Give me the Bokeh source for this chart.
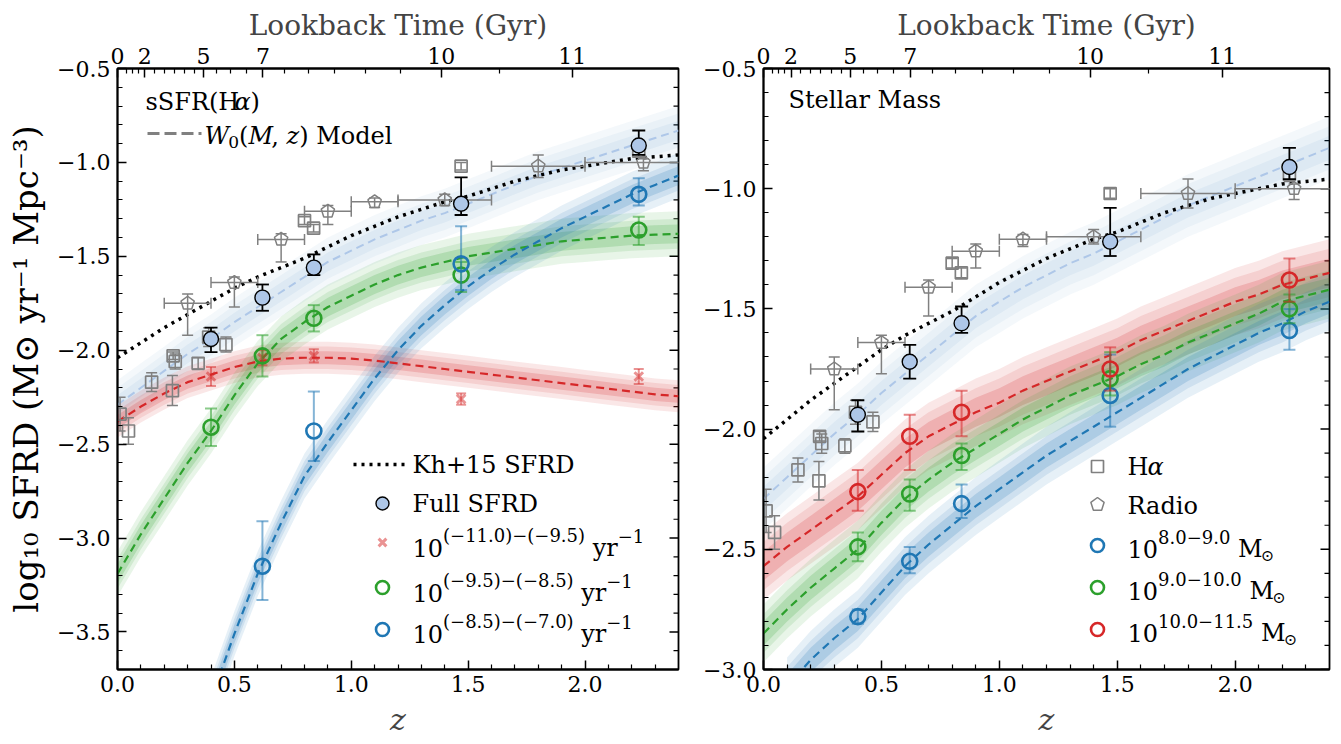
import math

from bokeh.embed import file_html
from bokeh.layouts import row
from bokeh.models import FixedTicker, Label, LinearAxis, PrintfTickFormatter, Range1d
from bokeh.plotting import figure
from bokeh.resources import INLINE

SERIF = "DejaVu Serif"

TAB_BLUE = "#1f77b4"
TAB_GREEN = "#2ca02c"
TAB_RED = "#d62728"
PALE_BLUE = "#aec7e8"
GREY = "#808080"

# ---------------------------------------------------------------- data
# redshift grid of the tabulated model curves
MODEL_Z = [0.0, 0.1, 0.2, 0.3, 0.4, 0.5, 0.6, 0.7, 0.8, 0.9, 1.0, 1.1, 1.2,
           1.3, 1.4, 1.5, 1.6, 1.7, 1.8, 1.9, 2.0, 2.1, 2.2, 2.3, 2.4]

# Kh+15 cosmic SFRD (dotted)
KH15_SFRD = [-2.04, -1.96, -1.88, -1.81, -1.74, -1.67, -1.61, -1.56, -1.51, -1.45,
             -1.39, -1.34, -1.29, -1.25, -1.21, -1.18, -1.14, -1.10, -1.07, -1.04,
             -1.02, -1.00, -0.98, -0.97, -0.96]

# W0(M, z) model for the full SFRD
FULL_MODEL = [-2.29, -2.20, -2.11, -2.02, -1.94, -1.85, -1.77, -1.69, -1.61, -1.53,
              -1.47, -1.41, -1.36, -1.31, -1.27, -1.22, -1.17, -1.12, -1.07, -1.03,
              -0.99, -0.95, -0.91, -0.87, -0.83]

# sSFR-binned models
SSFR_LOW_MODEL = [-2.38, -2.30, -2.23, -2.17, -2.13, -2.09, -2.06, -2.045, -2.04, -2.04,
                  -2.045, -2.055, -2.07, -2.085, -2.10, -2.115, -2.13, -2.145, -2.16,
                  -2.175, -2.19, -2.205, -2.22, -2.235, -2.245]
SSFR_MID_MODEL = [-3.19, -2.98, -2.79, -2.60, -2.43, -2.24, -2.07, -1.94, -1.85, -1.77,
                  -1.71, -1.65, -1.60, -1.56, -1.53, -1.50, -1.48, -1.46, -1.44, -1.42,
                  -1.41, -1.40, -1.39, -1.385, -1.38]
SSFR_HIGH_Z = [0.4, 0.5, 0.6, 0.7, 0.8, 0.9, 1.0, 1.1, 1.2, 1.3, 1.4, 1.5, 1.6,
               1.7, 1.8, 1.9, 2.0, 2.1, 2.2, 2.3, 2.4]
SSFR_HIGH_MODEL = [-3.86, -3.51, -3.19, -2.92, -2.67, -2.49, -2.32, -2.15, -2.00, -1.87,
                   -1.76, -1.66, -1.57, -1.49, -1.42, -1.35, -1.29, -1.23, -1.17, -1.12,
                   -1.07]

# stellar-mass-binned models
MASS_HIGH_MODEL = [-2.57, -2.49, -2.42, -2.35, -2.28, -2.19, -2.10, -2.03, -1.98, -1.93,
                   -1.89, -1.84, -1.80, -1.76, -1.72, -1.68, -1.63, -1.59, -1.55, -1.51,
                   -1.47, -1.44, -1.40, -1.375, -1.35]
MASS_MID_MODEL = [-2.85, -2.75, -2.66, -2.58, -2.50, -2.39, -2.29, -2.21, -2.14, -2.08,
                  -2.02, -1.96, -1.91, -1.86, -1.82, -1.78, -1.73, -1.69, -1.64, -1.60,
                  -1.56, -1.52, -1.47, -1.445, -1.42]
MASS_LOW_Z = [0.1, 0.2, 0.3, 0.4, 0.5, 0.6, 0.7, 0.8, 0.9, 1.0, 1.1, 1.2, 1.3,
              1.4, 1.5, 1.6, 1.7, 1.8, 1.9, 2.0, 2.1, 2.2, 2.3, 2.4]
MASS_LOW_MODEL = [-3.07, -2.96, -2.87, -2.79, -2.68, -2.57, -2.48, -2.40, -2.32, -2.25,
                  -2.18, -2.11, -2.05, -1.99, -1.93, -1.87, -1.81, -1.75, -1.70, -1.65,
                  -1.60, -1.56, -1.51, -1.47]

# measured SFRD in redshift bins
BIN_Z = [0.40, 0.62, 0.84, 1.47, 2.23]

FULL_SFRD = [-1.94, -1.72, -1.56, -1.22, -0.91]
FULL_SFRD_LO = [-2.01, -1.79, -1.60, -1.28, -0.96]
FULL_SFRD_HI = [-1.88, -1.65, -1.49, -1.08, -0.83]

SSFR_LOW = [-2.14, -2.04, -2.03, -2.26, -2.14]
SSFR_LOW_LO = [-2.19, -2.08, -2.065, -2.29, -2.18]
SSFR_LOW_HI = [-2.09, -2.00, -1.995, -2.23, -2.10]

SSFR_MID = [-2.41, -2.03, -1.83, -1.60, -1.36]
SSFR_MID_LO = [-2.51, -2.14, -1.90, -1.69, -1.44]
SSFR_MID_HI = [-2.31, -1.92, -1.76, -1.53, -1.29]

SSFR_HIGH_BIN_Z = [0.62, 0.84, 1.47, 2.23]
SSFR_HIGH = [-3.15, -2.43, -1.54, -1.17]
SSFR_HIGH_LO = [-3.33, -2.59, -1.68, -1.23]
SSFR_HIGH_HI = [-2.91, -2.22, -1.34, -1.085]

MASS_LOW = [-2.78, -2.55, -2.31, -1.86, -1.59]
MASS_LOW_LO = [-2.81, -2.60, -2.37, -1.99, -1.67]
MASS_LOW_HI = [-2.75, -2.49, -2.23, -1.69, -1.50]

MASS_MID = [-2.49, -2.27, -2.11, -1.79, -1.50]
MASS_MID_LO = [-2.55, -2.34, -2.17, -1.86, -1.56]
MASS_MID_HI = [-2.43, -2.21, -2.06, -1.68, -1.44]

MASS_HIGH = [-2.26, -2.03, -1.93, -1.75, -1.38]
MASS_HIGH_LO = [-2.34, -2.17, -2.03, -1.84, -1.47]
MASS_HIGH_HI = [-2.17, -1.94, -1.84, -1.66, -1.29]

# literature compilation: H-alpha surveys
HA_Z = [0.011, 0.047, 0.146, 0.235, 0.238, 0.247, 0.345, 0.39, 0.464, 0.80, 0.839, 1.47, 2.23]
HA_SFRD = [-2.34, -2.43, -2.17, -2.215, -2.03, -2.06, -2.07, -1.93, -1.97, -1.31, -1.35, -1.02, -0.94]
HA_ERR = [0.09, 0.07, 0.05, 0.08, 0.02, 0.04, 0.03, 0.05, 0.04, 0.02, 0.02, 0.02, 0.03]

# literature compilation: radio stacking
RADIO_Z = [0.30, 0.50, 0.70, 0.90, 1.10, 1.40, 1.80, 2.25]
RADIO_SFRD = [-1.75, -1.64, -1.41, -1.26, -1.21, -1.20, -1.02, -1.00]
RADIO_Z_LO = [0.20, 0.40, 0.60, 0.80, 1.00, 1.20, 1.60, 2.00]
RADIO_Z_HI = [0.40, 0.60, 0.80, 1.00, 1.20, 1.60, 2.00, 2.50]
RADIO_LO = [-1.92, -1.77, -1.53, -1.33, -1.24, -1.23, -1.08, -1.045]
RADIO_HI = [-1.70, -1.61, -1.38, -1.23, -1.19, -1.17, -0.96, -0.98]

# axes
Z_TICKS = [0.0, 0.5, 1.0, 1.5, 2.0]
Z_MINOR = [0.1, 0.2, 0.3, 0.4, 0.6, 0.7, 0.8, 0.9, 1.1, 1.2, 1.3, 1.4,
           1.6, 1.7, 1.8, 1.9, 2.1, 2.2, 2.3]
LOOKBACK_LABELS = ["0", "2", "5", "7", "10", "11"]
LOOKBACK_Z = [0.0, 0.117, 0.368, 0.622, 1.385, 1.945]
LOOKBACK_MINOR_Z = [0.037, 0.064, 0.089, 0.158, 0.201, 0.243, 0.288, 0.330,
                    0.425, 0.484, 0.552, 0.716, 0.815, 0.930, 1.062, 1.212, 1.633]
LEFT_Y_TICKS = [-3.5, -3.0, -2.5, -2.0, -1.5, -1.0, -0.5]
RIGHT_Y_TICKS = [-3.0, -2.5, -2.0, -1.5, -1.0, -0.5]
Y_TITLE = "log₁₀ SFRD (M⊙ yr⁻¹ Mpc⁻³)"

# ---------------------------------------------------------------- layout
FRAME_H = 601
LEFT_FRAME_W = 561
RIGHT_FRAME_W = 566
TICK_PX = "22px"

# approximate DejaVu Serif advance widths (em) used to lay out composed text
ADV = {" ": .318, "(": .390, ")": .390, "+": .838, ",": .318, ".": .318, "−": .838,
       "D": .747, "F": .628, "G": .734, "H": .837, "K": .710, "L": .625, "M": .948,
       "R": .694, "S": .648, "T": .652, "W": .990, "a": .596, "b": .640, "c": .560,
       "d": .640, "e": .592, "g": .640, "h": .644, "i": .320, "k": .606, "l": .320,
       "m": .948, "o": .602, "p": .640, "r": .478, "s": .513, "t": .402, "y": .565,
       "z": .530, "α": .660, "⊙": .840}
for _d in "0123456789":
    ADV[_d] = .636


def text_width(s, size):
    return sum(ADV.get(ch, 0.6) for ch in s) * size


def rich_text(p, parts, x, y, color="black"):
    """Lay out (text, size, raise, style) runs one after another, in frame pixels.

    (x, y) is the start of the first run, at the vertical middle of its line.
    """
    adv = 0.0
    for txt, size, rise, style in parts:
        core = txt.strip(" ")
        adv += (len(txt) - len(txt.lstrip(" "))) * ADV[" "] * size
        if core:
            p.add_layout(Label(
                x=x + adv, y=y + rise, x_range_name="px", y_range_name="py", text=core,
                text_font=SERIF, text_font_size=f"{size}px", text_font_style=style,
                text_color=color, text_align="left", text_baseline="middle"))
            adv += text_width(core, size)
        adv += (len(txt) - len(txt.rstrip(" "))) * ADV[" "] * size
    return adv


def minus(v):
    return f"−{abs(v):.1f}" if v < 0 else f"{v:.1f}"


def style_axis(ax):
    ax.axis_line_color = "black"
    ax.axis_line_width = 1.8
    ax.major_tick_in = 9
    ax.major_tick_out = 0
    ax.minor_tick_in = 5
    ax.minor_tick_out = 0
    ax.major_tick_line_width = 1.5
    ax.minor_tick_line_width = 1.2
    ax.major_tick_line_color = "black"
    ax.minor_tick_line_color = "black"
    ax.major_label_text_font = SERIF
    ax.major_label_text_color = "black"
    ax.major_label_text_font_size = TICK_PX


def build_panel(frame_w, y_lo, y_hi, y_ticks, border_left, border_right, y_title=None):
    p = figure(frame_width=frame_w, frame_height=FRAME_H,
               x_range=Range1d(0.0, 2.4), y_range=Range1d(y_lo, y_hi),
               output_backend="svg", toolbar_location=None,
               min_border_left=border_left, min_border_right=border_right,
               min_border_top=68, min_border_bottom=75)
    p.extra_x_ranges = {"px": Range1d(0, frame_w)}
    p.extra_y_ranges = {"py": Range1d(0, FRAME_H)}
    p.xgrid.visible = False
    p.ygrid.visible = False
    p.background_fill_color = "white"
    p.border_fill_color = "white"
    p.outline_line_color = "black"
    p.outline_line_width = 1.8
    p.outline_line_alpha = 1.0

    y_minor = [round(y_lo + 0.1 * k, 1) for k in range(int(round((y_hi - y_lo) * 10)) + 1)]
    y_minor = [v for v in y_minor if v not in y_ticks]

    bottom = p.xaxis[0]
    bottom.ticker = FixedTicker(ticks=Z_TICKS, minor_ticks=Z_MINOR)
    bottom.formatter = PrintfTickFormatter(format="%.1f")
    style_axis(bottom)
    bottom.major_label_standoff = 6
    bottom.axis_label = "z"
    bottom.axis_label_text_font = SERIF
    bottom.axis_label_text_font_style = "italic"
    bottom.axis_label_text_font_size = "30px"
    bottom.axis_label_standoff = 7

    left = p.yaxis[0]
    left.ticker = FixedTicker(ticks=y_ticks, minor_ticks=y_minor)
    left.major_label_overrides = {v: minus(v) for v in y_ticks}
    style_axis(left)
    left.major_label_standoff = 7
    if y_title:
        left.axis_label = y_title
        left.axis_label_text_font = SERIF
        left.axis_label_text_font_style = "normal"
        left.axis_label_text_font_size = "34px"
        left.axis_label_text_color = "black"
        left.axis_label_standoff = 8

    top = LinearAxis(ticker=FixedTicker(ticks=LOOKBACK_Z, minor_ticks=LOOKBACK_MINOR_Z),
                     major_label_overrides=dict(zip(LOOKBACK_Z, LOOKBACK_LABELS)))
    style_axis(top)
    top.major_label_standoff = 5
    top.axis_label = "Lookback Time (Gyr)"
    top.axis_label_text_font = SERIF
    top.axis_label_text_font_style = "normal"
    top.axis_label_text_font_size = "28px"
    top.axis_label_standoff = 3
    p.add_layout(top, "above")

    # inward ticks along the right-hand frame edge
    sx = frame_w / 2.4
    p.segment(x0=[2.4 - 9 / sx] * len(y_ticks), y0=y_ticks, x1=[2.4] * len(y_ticks), y1=y_ticks,
              line_color="black", line_width=1.5)
    p.segment(x0=[2.4 - 5 / sx] * len(y_minor), y0=y_minor, x1=[2.4] * len(y_minor), y1=y_minor,
              line_color="black", line_width=1.2)
    return p


def model(p, z, y, color, widths, alphas, line_color=None, line_width=2.2):
    for w, a in zip(widths, alphas):
        p.varea(x=z, y1=[v - w for v in y], y2=[v + w for v in y],
                fill_color=color, fill_alpha=a)
    return (z, y, line_color or color, line_width)


def draw_model_line(p, spec):
    z, y, color, lw = spec
    p.line(z, y, line_color=color, line_width=lw, line_dash="8 5")


def yerr(p, x, lo, hi, color, alpha=1.0, width=1.6, cap=11):
    p.segment(x0=x, y0=lo, x1=x, y1=hi, line_color=color, line_alpha=alpha, line_width=width)
    p.scatter(x=list(x) + list(x), y=list(lo) + list(hi), marker="dash", size=cap,
              line_color=color, line_alpha=alpha, line_width=width)


def xerr(p, y, lo, hi, color, alpha=1.0, width=1.6, cap=11):
    p.segment(x0=lo, y0=y, x1=hi, y1=y, line_color=color, line_alpha=alpha, line_width=width)
    p.scatter(x=list(lo) + list(hi), y=list(y) + list(y), marker="dash", size=cap,
              angle=math.pi / 2, line_color=color, line_alpha=alpha, line_width=width)


def pentagons(cx, cy, r_px, sx, sy):
    xs, ys = [], []
    for x0, y0 in zip(cx, cy):
        xs.append([x0 + r_px * math.cos(math.radians(90 + 72 * k)) / sx for k in range(5)])
        ys.append([y0 + r_px * math.sin(math.radians(90 + 72 * k)) / sy for k in range(5)])
    return xs, ys


def literature(p, frame_w, y_lo, y_hi):
    sx = frame_w / 2.4
    sy = FRAME_H / (y_hi - y_lo)
    yerr(p, HA_Z, [v - e for v, e in zip(HA_SFRD, HA_ERR)],
         [v + e for v, e in zip(HA_SFRD, HA_ERR)], GREY, width=1.5, cap=11)
    p.scatter(HA_Z, HA_SFRD, marker="square", size=12, fill_color=None,
              line_color=GREY, line_width=1.7)
    xerr(p, RADIO_SFRD, RADIO_Z_LO, RADIO_Z_HI, GREY, width=1.5, cap=11)
    yerr(p, RADIO_Z, RADIO_LO, RADIO_HI, GREY, width=1.5, cap=11)
    xs, ys = pentagons(RADIO_Z, RADIO_SFRD, 7, sx, sy)
    p.patches(xs, ys, fill_color=None, line_color=GREY, line_width=1.5)


def full_points(p):
    yerr(p, BIN_Z, FULL_SFRD_LO, FULL_SFRD_HI, "black", width=1.8, cap=13)
    p.scatter(BIN_Z, FULL_SFRD, marker="circle", size=15, fill_color=PALE_BLUE,
              line_color="black", line_width=1.4)


def hollow(p, z, y, lo, hi, color):
    yerr(p, z, lo, hi, color, alpha=0.55, width=2.0, cap=12)
    p.scatter(z, y, marker="circle", size=15, fill_color=None, line_color=color, line_width=2.6)


ALPHAS = (0.11, 0.12, 0.19)
FULL_BAND = (0.13, 0.09, 0.05)
FULL_ALPHAS = (0.05, 0.05, 0.06)

# ================================================================ left panel
p1 = build_panel(LEFT_FRAME_W, -3.7, -0.5, LEFT_Y_TICKS, 117, 10, y_title=Y_TITLE)

lines = [
    model(p1, MODEL_Z, FULL_MODEL, TAB_BLUE, FULL_BAND, FULL_ALPHAS, PALE_BLUE, 2.0),
    model(p1, MODEL_Z, SSFR_LOW_MODEL, TAB_RED, (0.085, 0.06, 0.035), ALPHAS),
    model(p1, MODEL_Z, SSFR_MID_MODEL, TAB_GREEN, (0.12, 0.08, 0.05), ALPHAS),
    model(p1, SSFR_HIGH_Z, SSFR_HIGH_MODEL, TAB_BLUE, (0.12, 0.08, 0.05), ALPHAS),
]
for spec in lines:
    draw_model_line(p1, spec)
p1.line(MODEL_Z, KH15_SFRD, line_color="black", line_width=3.5, line_dash="3 5")

literature(p1, LEFT_FRAME_W, -3.7, -0.5)
full_points(p1)
yerr(p1, BIN_Z, SSFR_LOW_LO, SSFR_LOW_HI, TAB_RED, alpha=0.5, width=2.0, cap=10)
p1.scatter(BIN_Z, SSFR_LOW, marker="x", size=12, line_color=TAB_RED, line_alpha=0.5, line_width=3)
hollow(p1, BIN_Z, SSFR_MID, SSFR_MID_LO, SSFR_MID_HI, TAB_GREEN)
hollow(p1, SSFR_HIGH_BIN_Z, SSFR_HIGH, SSFR_HIGH_LO, SSFR_HIGH_HI, TAB_BLUE)

# panel annotation
rich_text(p1, [("sSFR(H", 24, 0, "normal"), ("α", 24, 0, "italic"), (")", 24, 0, "normal")], 28, 568)
p1.line([30, 84], [536, 536], x_range_name="px", y_range_name="py",
        line_color=GREY, line_width=3.2, line_dash="12 5")
rich_text(p1, [("W", 24, 0, "italic"), ("0", 17, -6, "normal"), ("(", 24, 0, "normal"),
               ("M", 24, 0, "italic"), (", ", 24, 0, "normal"), ("z", 24, 0, "italic"),
               (")", 24, 0, "normal"), (" Model", 24, 0, "normal")], 87, 534)

# legend
LX, TX = 265, 295
p1.line([236, 291], [205, 205], x_range_name="px", y_range_name="py",
        line_color="black", line_width=3.5, line_dash="3 5")
rich_text(p1, [("Kh+15 SFRD", 24, 0, "normal")], TX, 205)
p1.scatter([LX], [166], x_range_name="px", y_range_name="py", marker="circle", size=13,
           fill_color=PALE_BLUE, line_color="black", line_width=1.4)
rich_text(p1, [("Full SFRD", 24, 0, "normal")], TX, 166)
p1.scatter([LX], [127], x_range_name="px", y_range_name="py", marker="x", size=11,
           line_color=TAB_RED, line_alpha=0.5, line_width=3)
p1.scatter([LX], [82], x_range_name="px", y_range_name="py", marker="circle", size=13,
           fill_color=None, line_color=TAB_GREEN, line_width=2.6)
p1.scatter([LX], [40], x_range_name="px", y_range_name="py", marker="circle", size=13,
           fill_color=None, line_color=TAB_BLUE, line_width=2.6)
for sup, mid in [("(−11.0)−(−9.5)", 122), ("(−9.5)−(−8.5)", 77), ("(−8.5)−(−7.0)", 36)]:
    rich_text(p1, [("10", 24, 0, "normal"), (sup, 18, 12, "normal"), (" yr", 24, 0, "normal"),
                   ("−1", 18, 12, "normal")], TX, mid)

# ================================================================ right panel
p2 = build_panel(RIGHT_FRAME_W, -3.0, -0.5, RIGHT_Y_TICKS, 75, 12)

lines = [
    model(p2, MODEL_Z, FULL_MODEL, TAB_BLUE, FULL_BAND, FULL_ALPHAS, PALE_BLUE, 2.0),
    model(p2, MODEL_Z, MASS_HIGH_MODEL, TAB_RED, (0.14, 0.10, 0.06), ALPHAS),
    model(p2, MODEL_Z, MASS_MID_MODEL, TAB_GREEN, (0.12, 0.08, 0.05), ALPHAS),
    model(p2, MASS_LOW_Z, MASS_LOW_MODEL, TAB_BLUE, (0.12, 0.08, 0.05), ALPHAS),
]
for spec in lines:
    draw_model_line(p2, spec)
p2.line(MODEL_Z, KH15_SFRD, line_color="black", line_width=3.5, line_dash="3 5")

literature(p2, RIGHT_FRAME_W, -3.0, -0.5)
full_points(p2)
hollow(p2, BIN_Z, MASS_LOW, MASS_LOW_LO, MASS_LOW_HI, TAB_BLUE)
hollow(p2, BIN_Z, MASS_MID, MASS_MID_LO, MASS_MID_HI, TAB_GREEN)
hollow(p2, BIN_Z, MASS_HIGH, MASS_HIGH_LO, MASS_HIGH_HI, TAB_RED)

rich_text(p2, [("Stellar Mass", 24, 0, "normal")], 25, 570)

RLX, RTX = 334, 364
p2.scatter([RLX], [203], x_range_name="px", y_range_name="py", marker="square", size=12,
           fill_color=None, line_color=GREY, line_width=1.7)
rich_text(p2, [("H", 24, 0, "normal"), ("α", 24, 0, "italic")], RTX, 203)
lx, ly = pentagons([RLX], [165], 7, 1.0, 1.0)
p2.patches(lx, ly, x_range_name="px", y_range_name="py", fill_color=None,
           line_color=GREY, line_width=1.5)
rich_text(p2, [("Radio", 24, 0, "normal")], RTX, 164)
for color, yc, sup, mid in [(TAB_BLUE, 124, "8.0−9.0", 121), (TAB_GREEN, 82, "9.0−10.0", 79),
                            (TAB_RED, 40, "10.0−11.5", 37)]:
    p2.scatter([RLX], [yc], x_range_name="px", y_range_name="py", marker="circle", size=13,
               fill_color=None, line_color=color, line_width=2.6)
    rich_text(p2, [("10", 24, 0, "normal"), (sup, 18, 12, "normal"), (" M", 24, 0, "normal"),
                   ("⊙", 16, -7, "normal")], RTX, mid)

layout = row(p1, p2)
open("out.html", "w").write(file_html(layout, INLINE))
